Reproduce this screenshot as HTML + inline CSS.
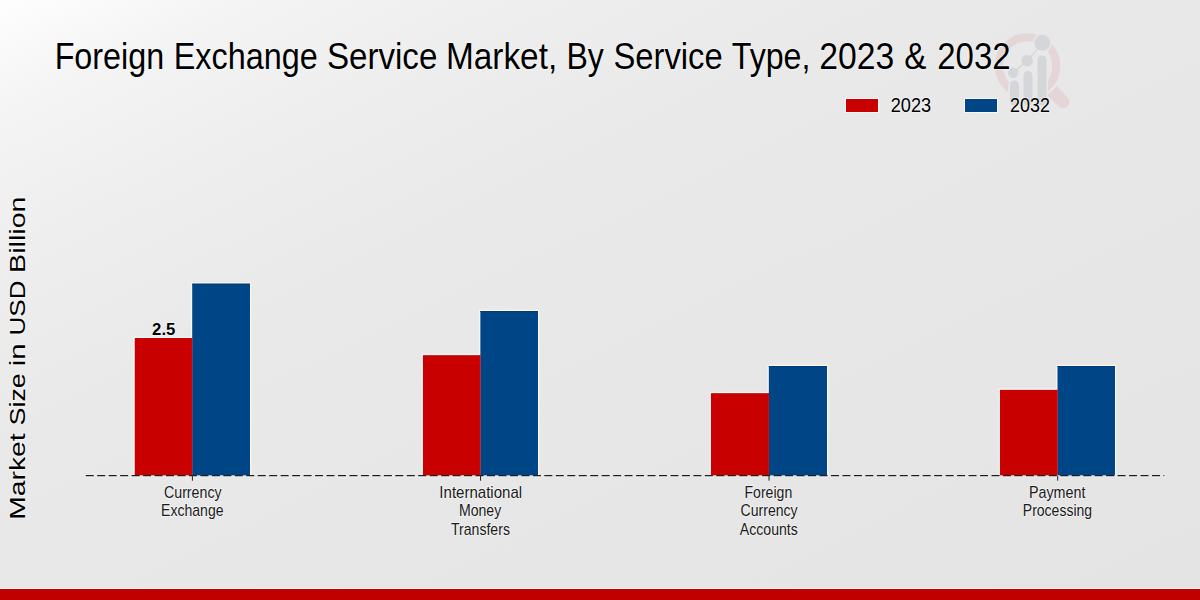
<!DOCTYPE html>
<html>
<head>
<meta charset="utf-8">
<style>
html,body{margin:0;padding:0;}
body{width:1200px;height:600px;overflow:hidden;font-family:"Liberation Sans",sans-serif;}
#c{position:relative;width:1200px;height:600px;overflow:hidden;
background:linear-gradient(154deg,#fefefe 0%,#f4f4f4 10%,#eeeeee 22%,#e9e9e9 38%,#e7e7e7 60%,#e4e4e4 100%);}
svg{position:absolute;left:0;top:0;}
svg text{font-family:"Liberation Sans",sans-serif;paint-order:stroke;stroke:#ffffff;stroke-opacity:0.55;stroke-width:1.6px;stroke-linejoin:round;}
</style>
</head>
<body>
<div id="c">
<svg width="1200" height="600" viewBox="0 0 1200 600" font-family="Liberation Sans, sans-serif">
  <!-- watermark logo -->
  <defs>
    <mask id="ringMask" maskUnits="userSpaceOnUse" x="980" y="20" width="110" height="100">
      <rect x="980" y="20" width="110" height="100" fill="#fff"/>
      <g fill="#000" stroke="#000" stroke-width="3">
        <rect x="1010" y="80.5" width="9" height="30" rx="4.5"/>
        <rect x="1023.5" y="71" width="9" height="40" rx="4.5"/>
        <rect x="1037.5" y="55.5" width="9" height="55" rx="4.5"/>
        <rect x="1010" y="86" width="36.5" height="30"/>
        <circle cx="1013.2" cy="72.8" r="5.25"/>
        <circle cx="1027.2" cy="60.8" r="5.75"/>
        <circle cx="1042.4" cy="42.8" r="8"/>
      </g>
    </mask>
    <mask id="handleMask" maskUnits="userSpaceOnUse" x="980" y="20" width="110" height="100">
      <rect x="980" y="20" width="110" height="100" fill="#fff"/>
      <circle cx="1027.6" cy="66.4" r="34.8" fill="#000"/>
    </mask>
  </defs>
  <g id="logo">
    <circle cx="1027.6" cy="65.9" r="28.7" fill="none" stroke="#e4d5d7" stroke-width="8" mask="url(#ringMask)"/>
    <line x1="1047.4" y1="86.2" x2="1062.95" y2="101.75" stroke="#e4d5d7" stroke-width="13" stroke-linecap="round" mask="url(#handleMask)"/>
    <g fill="#d5d6d9">
      <rect x="1010" y="80.5" width="9" height="25" rx="4.5"/>
      <rect x="1023.5" y="71" width="9" height="34.5" rx="4.5"/>
      <rect x="1037.5" y="55.5" width="9" height="50" rx="4.5"/>
      <circle cx="1013.2" cy="72.8" r="5.25"/>
      <circle cx="1027.2" cy="60.8" r="5.75"/>
      <circle cx="1042.4" cy="42.8" r="8"/>
    </g>
    <polyline points="1013.2,72.8 1027.2,60.8 1042.5,43" fill="none" stroke="#d5d6d9" stroke-width="1.3"/>
  </g>

  <!-- legend swatches -->
  <rect x="845" y="98" width="34" height="15" fill="#eef9f9"/>
  <rect x="846" y="99" width="32" height="13" fill="#c80000"/>
  <rect x="964" y="98" width="34" height="15" fill="#fbf6f2"/>
  <rect x="965" y="99" width="32" height="13" fill="#004687"/>

  <!-- bars -->
  <rect x="133.45" y="336.70" width="58.75" height="138.60" fill="#eef9f9"/>
  <rect x="190.90" y="282.40" width="60.40" height="192.90" fill="#fbf6f2"/>
  <rect x="134.75" y="338.00" width="57.45" height="137.30" fill="#c80000"/>
  <rect x="192.20" y="283.70" width="57.80" height="191.60" fill="#004687"/>
  <rect x="191.20" y="338.00" width="1" height="137.30" fill="#dc0000"/>
  <rect x="192.20" y="283.70" width="57.80" height="1" fill="#003a7c"/>
  <rect x="421.63" y="353.87" width="58.72" height="121.43" fill="#eef9f9"/>
  <rect x="479.05" y="309.70" width="60.25" height="165.60" fill="#fbf6f2"/>
  <rect x="422.93" y="355.17" width="57.42" height="120.13" fill="#c80000"/>
  <rect x="480.35" y="311.00" width="57.65" height="164.30" fill="#004687"/>
  <rect x="479.35" y="355.17" width="1" height="120.13" fill="#dc0000"/>
  <rect x="480.35" y="311.00" width="57.65" height="1" fill="#003a7c"/>
  <rect x="709.63" y="391.87" width="59.20" height="83.43" fill="#eef9f9"/>
  <rect x="767.53" y="364.75" width="60.77" height="110.55" fill="#fbf6f2"/>
  <rect x="710.93" y="393.17" width="57.90" height="82.13" fill="#c80000"/>
  <rect x="768.83" y="366.05" width="58.17" height="109.25" fill="#004687"/>
  <rect x="767.83" y="393.17" width="1" height="82.13" fill="#dc0000"/>
  <rect x="768.83" y="366.05" width="58.17" height="1" fill="#003a7c"/>
  <rect x="998.63" y="388.53" width="58.87" height="86.77" fill="#eef9f9"/>
  <rect x="1056.20" y="364.70" width="60.10" height="110.60" fill="#fbf6f2"/>
  <rect x="999.93" y="389.83" width="57.57" height="85.47" fill="#c80000"/>
  <rect x="1057.50" y="366.00" width="57.50" height="109.30" fill="#004687"/>
  <rect x="1056.50" y="389.83" width="1" height="85.47" fill="#dc0000"/>
  <rect x="1057.50" y="366.00" width="57.50" height="1" fill="#003a7c"/>

  <!-- baseline -->
  <line x1="85.75" y1="476.7" x2="1164.25" y2="476.7" stroke="#f6f6f6" stroke-width="1" stroke-dasharray="8 3.465"/>
  <line x1="85.75" y1="475.55" x2="1164.25" y2="475.55" stroke="#1e1e1e" stroke-width="1.25" stroke-dasharray="8 3.465"/>
  <!-- ticks -->
  <g stroke="#222" stroke-width="1">
    <line x1="192.40" y1="476" x2="192.40" y2="480.7"/>
    <line x1="480.55" y1="476" x2="480.55" y2="480.7"/>
    <line x1="769.03" y1="476" x2="769.03" y2="480.7"/>
    <line x1="1057.70" y1="476" x2="1057.70" y2="480.7"/>
  </g>

  <text x="54.64" y="68.9" font-size="36.3" fill="#000" textLength="109.56" lengthAdjust="spacingAndGlyphs">Foreign</text>
  <text x="173.77" y="68.9" font-size="36.3" fill="#000" textLength="144.05" lengthAdjust="spacingAndGlyphs">Exchange</text>
  <text x="326.88" y="68.9" font-size="36.3" fill="#000" textLength="110.48" lengthAdjust="spacingAndGlyphs">Service</text>
  <text x="446.03" y="68.9" font-size="36.3" fill="#000" textLength="111.17" lengthAdjust="spacingAndGlyphs">Market,</text>
  <text x="566.48" y="68.9" font-size="36.3" fill="#000" textLength="37.40" lengthAdjust="spacingAndGlyphs">By</text>
  <text x="613.38" y="68.9" font-size="36.3" fill="#000" textLength="109.38" lengthAdjust="spacingAndGlyphs">Service</text>
  <text x="731.75" y="68.9" font-size="36.3" fill="#000" textLength="78.71" lengthAdjust="spacingAndGlyphs">Type,</text>
  <text x="819.14" y="68.9" font-size="36.3" fill="#000" textLength="75.04" lengthAdjust="spacingAndGlyphs">2023</text>
  <text x="904.17" y="68.9" font-size="36.3" fill="#000" textLength="22.26" lengthAdjust="spacingAndGlyphs">&amp;</text>
  <text x="937.22" y="68.9" font-size="36.3" fill="#000" textLength="73.34" lengthAdjust="spacingAndGlyphs">2032</text>
  <text transform="translate(24.80,519.71) rotate(-90)" x="0" y="0" font-size="22" fill="#000" textLength="86.30" lengthAdjust="spacingAndGlyphs">Market</text>
  <text transform="translate(24.80,425.51) rotate(-90)" x="0" y="0" font-size="22" fill="#000" textLength="52.27" lengthAdjust="spacingAndGlyphs">Size</text>
  <text transform="translate(24.80,366.29) rotate(-90)" x="0" y="0" font-size="22" fill="#000" textLength="22.92" lengthAdjust="spacingAndGlyphs">in</text>
  <text transform="translate(24.80,335.44) rotate(-90)" x="0" y="0" font-size="22" fill="#000" textLength="54.94" lengthAdjust="spacingAndGlyphs">USD</text>
  <text transform="translate(24.80,272.93) rotate(-90)" x="0" y="0" font-size="22" fill="#000" textLength="76.51" lengthAdjust="spacingAndGlyphs">Billion</text>
  <text x="890.69" y="112.3" font-size="20" fill="#000" textLength="40.47" lengthAdjust="spacingAndGlyphs">2023</text>
  <text x="1010.03" y="112.3" font-size="20" fill="#000" textLength="39.83" lengthAdjust="spacingAndGlyphs">2032</text>
  <text x="152.12" y="335.2" font-size="16.8" font-weight="bold" fill="#000" textLength="23.33" lengthAdjust="spacingAndGlyphs">2.5</text>
  <text x="163.97" y="497.6" font-size="16.1" fill="#1a1a1a" textLength="57.63" lengthAdjust="spacingAndGlyphs">Currency</text>
  <text x="161.08" y="516.4" font-size="16.1" fill="#1a1a1a" textLength="62.49" lengthAdjust="spacingAndGlyphs">Exchange</text>
  <text x="439.33" y="497.6" font-size="16.1" fill="#1a1a1a" textLength="82.82" lengthAdjust="spacingAndGlyphs">International</text>
  <text x="458.91" y="516.4" font-size="16.1" fill="#1a1a1a" textLength="42.29" lengthAdjust="spacingAndGlyphs">Money</text>
  <text x="451.01" y="535.0" font-size="16.1" fill="#1a1a1a" textLength="58.93" lengthAdjust="spacingAndGlyphs">Transfers</text>
  <text x="744.51" y="497.6" font-size="16.1" fill="#1a1a1a" textLength="47.74" lengthAdjust="spacingAndGlyphs">Foreign</text>
  <text x="740.54" y="516.4" font-size="16.1" fill="#1a1a1a" textLength="57.14" lengthAdjust="spacingAndGlyphs">Currency</text>
  <text x="739.83" y="535.0" font-size="16.1" fill="#1a1a1a" textLength="58.00" lengthAdjust="spacingAndGlyphs">Accounts</text>
  <text x="1028.91" y="497.6" font-size="16.1" fill="#1a1a1a" textLength="56.53" lengthAdjust="spacingAndGlyphs">Payment</text>
  <text x="1022.82" y="516.4" font-size="16.1" fill="#1a1a1a" textLength="69.31" lengthAdjust="spacingAndGlyphs">Processing</text>

  <!-- bottom band -->
  <rect x="0" y="588" width="1200" height="1" fill="#eefafa"/>
  <rect x="0" y="589" width="1200" height="11" fill="#c00000"/>
</svg>
</div>
</body>
</html>
